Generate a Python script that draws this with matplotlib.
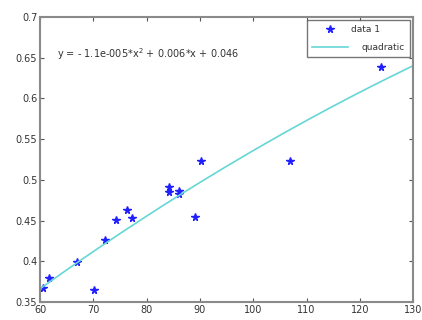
import numpy as np
import matplotlib
matplotlib.use("Agg")
import matplotlib.pyplot as plt

# data
x_data = [60.6, 61.7, 67.0, 70.1, 72.2, 74.2, 76.4, 77.2, 84.2, 84.2, 86.1, 86.1, 89.0, 90.2, 106.9, 124.0]
y_data = [0.367, 0.380, 0.399, 0.365, 0.426, 0.451, 0.463, 0.453, 0.491, 0.485, 0.486, 0.483, 0.454, 0.5235, 0.5235, 0.639]
coeffs = [-1.1e-5, 0.006, 0.046]
x_ticks = [60, 70, 80, 90, 100, 110, 120, 130]
y_ticks = [0.35, 0.4, 0.45, 0.5, 0.55, 0.6, 0.65, 0.7]
y_tick_labels = ["0.35", "0.4", "0.45", "0.5", "0.55", "0.6", "0.65", "0.7"]
eq_text = r"y = - 1.1e-005*x$^2$ + 0.006*x + 0.046"

fig = plt.figure(figsize=(4.22, 3.2), dpi=100)
ax = fig.add_axes([0.095, 0.056, 0.884, 0.891])

ax.plot(x_data, y_data, linestyle="none", marker="*", color="#1f1fff",
        markersize=5.5, label="data 1")
xs = np.linspace(60, 130, 200)
ax.plot(xs, np.polyval(coeffs, xs), color="#66d6d6", linewidth=1.2, label="quadratic")

ax.set_xlim(60, 130)
ax.set_ylim(0.35, 0.7)
ax.set_xticks(x_ticks)
ax.set_yticks(y_ticks)
ax.set_yticklabels(y_tick_labels)
ax.tick_params(direction="in", top=True, right=True, labelsize=7,
               colors="#555555", length=3, pad=2)
ax.tick_params(labelcolor="#333333")
for s in ax.spines.values():
    s.set_color("#8a8a8a")
    s.set_linewidth(1.5)

ax.text(63.2, 0.654, eq_text, fontsize=7, color="#333333", va="center")

leg = ax.legend(loc="upper right", fontsize=6.5, frameon=True, fancybox=False,
                borderaxespad=0.3, handlelength=3.9, handletextpad=0.35,
                labelspacing=0.95, borderpad=0.6)
leg.get_frame().set_edgecolor("#555555")
leg.get_frame().set_linewidth(1.0)
for t in leg.get_texts():
    t.set_color("#333333")

# MATLAB-style offset of second legend label
rows = leg._legend_handle_box.get_children()[0].get_children()
rows[1].sep = rows[1].sep + 11 * 72.0 / fig.dpi

fig.savefig("out.png", dpi=100)
